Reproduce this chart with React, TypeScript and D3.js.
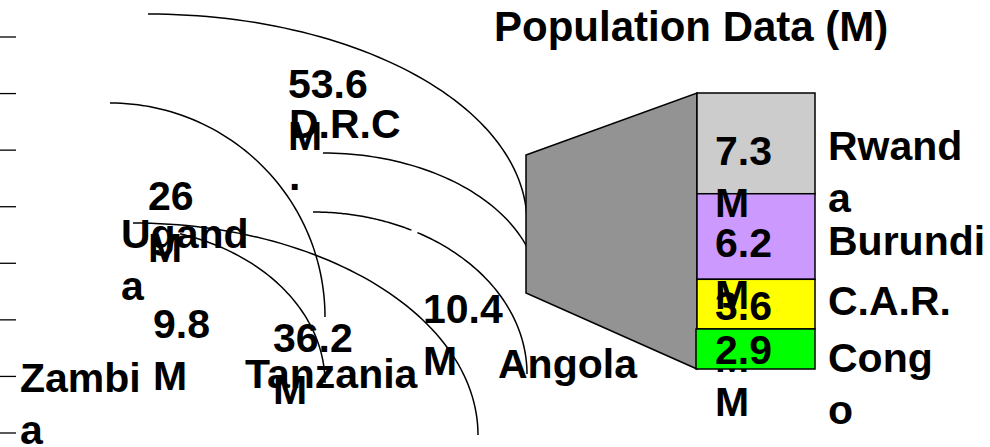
import React from "react";
import * as d3 from "d3";

const title = "Population Data (M)";

// Pie-side countries (left)
const pieCountries = ["D.R.C.", "Uganda", "Zambia", "Tanzania", "Angola"];
const piePopulations = [53.6, 26, 9.8, 36.2, 10.4];

// Bar-side countries (right)
const barCountries = ["Rwanda", "Burundi", "C.A.R.", "Congo"];
const barPopulations = [7.3, 6.2, 3.6, 2.9];
const barColors = ["#cccccc", "#cc99ff", "#ffff00", "#00ff00"];

// Layout (positions only)
const W = 990;
const H = 447;
const FONT = "'Liberation Sans', Arial, Helvetica, sans-serif";
const FS = 41;
const LH = 52;

// where names wrap (character index), 0 = no wrap
const pieWrap = [5, 5, 5, 0, 0];
const barWrap = [5, 0, 0, 4];

// label anchor positions for left side: [nameX, nameY, valueX, valueY]
const pieLabelPos = [
  [289, 138, 288, 98],
  [121, 248, 148, 210],
  [20, 392, 153, 338],
  [245, 388, 273, 352],
  [498, 378, 423, 323],
];

// arcs: center, radii, start/end angle (deg, 0 = top, 90 = right)
const arcs = [
  { cx: 148, cy: 223, rx: 379, ry: 209, t0: 0, t1: 90 },
  { cx: 110, cy: 317, rx: 215, ry: 214, t0: 0, t1: 90 },
  { cx: 323, cy: 293, rx: 216, ry: 140, t0: 0, t1: 90 },
  { cx: 313, cy: 374, rx: 214, ry: 162, t0: 0, t1: 27.4 },
  { cx: 313, cy: 374, rx: 214, ry: 162, t0: 29.2, t1: 90 },
  { cx: 133, cy: 435, rx: 345, ry: 212, t0: 0, t1: 90 },
  { cx: 120, cy: 383, rx: 205, ry: 156, t0: 17, t1: 90 },
];

const barX0 = 697;
const barX1 = 815;
const barTop = 93;
const barBottom = 369;
const trapX = 526;
const trapTop = 155;
const trapBottom = 293;
const valueX = 715;
const nameX = 828;
const valueDy = [22, 20, 16, 15];
const nameDy = [17, 18, 11, 23];

function wrapLines(s: string, k: number): string[] {
  return k > 0 && s.length > k ? [s.slice(0, k), s.slice(k)] : [s];
}

function MultiText({ x, y, lines }: { x: number; y: number; lines: string[] }) {
  return (
    <text x={x} y={y} fontFamily={FONT} fontWeight="bold" fontSize={FS} fill="#000">
      {lines.map((l, i) => (
        <tspan key={i} x={x} y={y + i * LH}>
          {l}
        </tspan>
      ))}
    </text>
  );
}

export default function App() {
  const total = d3.sum(barPopulations);
  const y = d3.scaleLinear().domain([0, total]).range([barTop, barBottom]);
  const cum = d3.cumsum(barPopulations);
  const segs = barPopulations.map((v, i) => {
    const start = i === 0 ? 0 : cum[i - 1];
    return { v, i, y0: y(start), y1: y(cum[i]) };
  });

  const tickScale = d3.scaleLinear().domain([0, 7]).range([37, 433]);
  const ticks = d3.range(8).map((d) => tickScale(d));

  const arcPath = (a: (typeof arcs)[number]) => {
    const n = 60;
    const pts = d3.range(n + 1).map((k) => {
      const t = ((a.t0 + ((a.t1 - a.t0) * k) / n) * Math.PI) / 180;
      return [a.cx + a.rx * Math.sin(t), a.cy - a.ry * Math.cos(t)] as [number, number];
    });
    return d3.line()(pts) || "";
  };

  const drawSeg = (s: (typeof segs)[number]) => (
    <rect
      key={"r" + s.i}
      x={s.i === 3 ? barX0 - 1 : barX0}
      y={s.y0}
      width={barX1 - barX0 + (s.i === 3 ? 1 : 0)}
      height={s.y1 - s.y0}
      fill={barColors[s.i]}
      stroke="#000"
      strokeWidth={1.5}
    />
  );
  const drawSegLabels = (s: (typeof segs)[number]) => {
    const c = (s.y0 + s.y1) / 2;
    return (
      <g key={"l" + s.i}>
        <MultiText x={valueX} y={c + valueDy[s.i]} lines={[String(s.v), "M"]} />
        <MultiText x={nameX} y={c + nameDy[s.i]} lines={wrapLines(barCountries[s.i], barWrap[s.i])} />
      </g>
    );
  };

  return (
    <svg
      width={W}
      height={H}
      style={{ position: "absolute", left: 0, top: 0, background: "#fff" }}
    >
      <rect x={0} y={0} width={W} height={H} fill="#fff" />
      {ticks.map((t, i) => (
        <line key={i} x1={0} x2={16} y1={t} y2={t} stroke="#000" strokeWidth={1.3} />
      ))}
      {arcs.map((a, i) => (
        <path key={i} d={arcPath(a)} fill="none" stroke="#000" strokeWidth={1.5} />
      ))}
      {pieCountries.map((c, i) => {
        const [nx, ny, vx, vy] = pieLabelPos[i];
        return (
          <g key={c}>
            <MultiText x={vx} y={vy} lines={[String(piePopulations[i]), "M"]} />
            <MultiText x={nx} y={ny} lines={wrapLines(c, pieWrap[i])} />
          </g>
        );
      })}
      <path
        d={`M${trapX},${trapTop}L${barX0},${barTop}L${barX0},${barBottom}L${trapX},${trapBottom}Z`}
        fill="#939393"
        stroke="#000"
        strokeWidth={1.5}
      />
      {segs.slice(0, 3).map(drawSeg)}
      {segs.slice(0, 3).map(drawSegLabels)}
      {segs.slice(3).map(drawSeg)}
      {segs.slice(3).map(drawSegLabels)}
      <text x={494} y={41} fontFamily={FONT} fontWeight="bold" fontSize={42} fill="#000">
        {title}
      </text>
    </svg>
  );
}
